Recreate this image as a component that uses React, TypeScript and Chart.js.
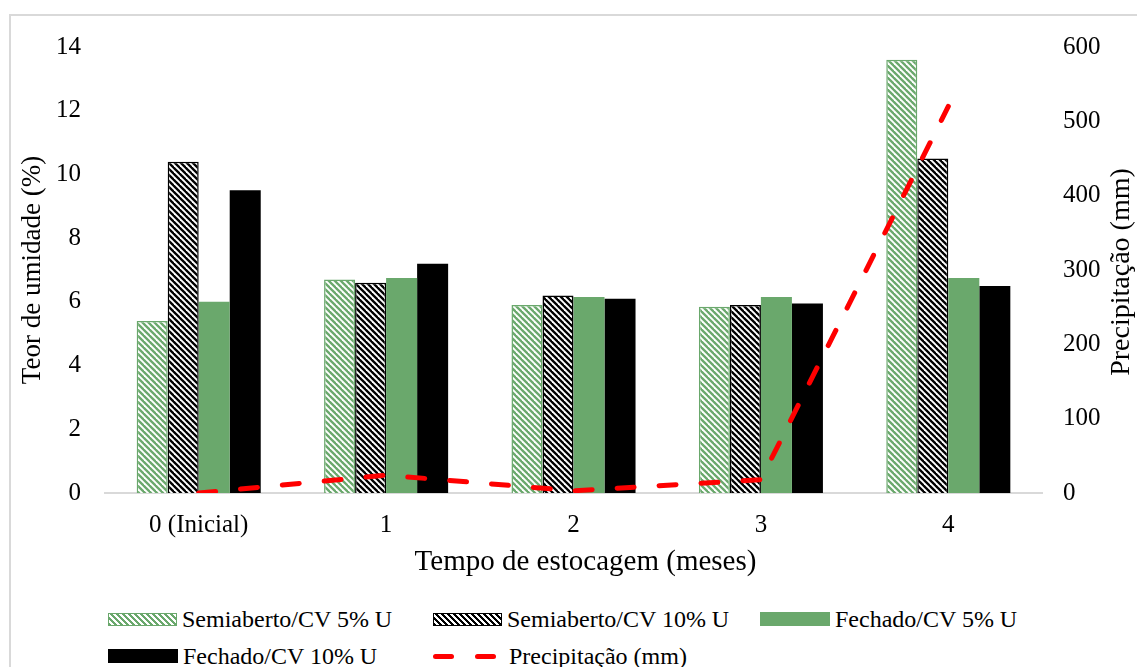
import React, { useEffect, useRef } from "react";
import { Chart, registerables } from "chart.js";

Chart.register(...registerables);

// ---- data ----
const categories = ["0 (Inicial)", "1", "2", "3", "4"];
const semiaberto5 = [5.4, 6.7, 5.9, 5.85, 13.6];
const semiaberto10 = [10.4, 6.6, 6.2, 5.9, 10.5];
const fechado5 = [6.0, 6.75, 6.15, 6.15, 6.75];
const fechado10 = [9.5, 7.2, 6.1, 5.95, 6.5];
const precipitacao = [0, 24, 3, 18, 520];
const seriesNames = [
  "Semiaberto/CV 5% U",
  "Semiaberto/CV 10% U",
  "Fechado/CV 5% U",
  "Fechado/CV 10% U",
  "Precipitação (mm)",
];
const leftAxis = { min: 0, max: 14, step: 2 };
const rightAxis = { min: 0, max: 600, step: 100 };
const xTitle = "Tempo de estocagem (meses)";
const yTitle = "Teor de umidade (%)";
const y1Title = "Precipitação (mm)";

// ---- style ----
const GREEN = "#6aa86c";
const BLACK = "#000000";
const RED = "#ff0000";
const FONT = "'Liberation Serif', 'Times New Roman', serif";

function makeHatch(ctx: CanvasRenderingContext2D, color: string) {
  const s = 6;
  const c = document.createElement("canvas");
  c.width = s;
  c.height = s;
  const x = c.getContext("2d")!;
  x.fillStyle = "#ffffff";
  x.fillRect(0, 0, s, s);
  x.strokeStyle = color;
  x.lineWidth = 2.3;
  for (const k of [-s, 0, s]) {
    x.beginPath();
    x.moveTo(k - 1, -1);
    x.lineTo(k + s + 1, s + 1);
    x.stroke();
  }
  return ctx.createPattern(c, "repeat")!;
}

const titlesPlugin = {
  id: "customTitles",
  afterDraw(chart: any) {
    const { ctx, chartArea } = chart;
    const sy1 = chart.scales.y1;
    const sx = chart.scales.x;
    ctx.save();
    ctx.fillStyle = "#000";
    ctx.textAlign = "center";
    ctx.textBaseline = "middle";
    // x axis title
    ctx.font = `29px ${FONT}`;
    ctx.fillText(xTitle, (chartArea.left + chartArea.right) / 2 + 12, sx.bottom - 20);
    // right axis title (reads bottom to top)
    ctx.translate(sy1.right - 15, (chartArea.top + chartArea.bottom) / 2 + 2);
    ctx.rotate(-Math.PI / 2);
    ctx.font = `28px ${FONT}`;
    ctx.fillText(y1Title, 0, 0);
    ctx.restore();
  },
};

const hatchCss = (color: string) =>
  `repeating-linear-gradient(45deg, ${color} 0px, ${color} 2.1px, #ffffff 2.1px, #ffffff 4.24px)`;

const legendCols = [108, 433, 760];
const legendRows = [619, 656];

export default function App() {
  const ref = useRef<HTMLCanvasElement>(null);

  useEffect(() => {
    const canvas = ref.current!;
    const ctx = canvas.getContext("2d")!;
    const greenHatch = makeHatch(ctx, GREEN);
    const blackHatch = makeHatch(ctx, BLACK);
    const tickFont = { family: FONT, size: 25 };
    const titleFont = { family: FONT, size: 27 };

    const barCommon = {
      yAxisID: "y",
      order: 1,
      categoryPercentage: 0.662,
      barPercentage: 1,
    };

    const chart = new Chart(ctx, {
      type: "bar",
      data: {
        labels: categories,
        datasets: [
          {
            ...barCommon,
            type: "bar",
            label: seriesNames[0],
            data: semiaberto5,
            backgroundColor: greenHatch,
            borderColor: GREEN,
            borderWidth: 1.5,
          },
          {
            ...barCommon,
            type: "bar",
            label: seriesNames[1],
            data: semiaberto10,
            backgroundColor: blackHatch,
            borderColor: BLACK,
            borderWidth: 1.5,
          },
          {
            ...barCommon,
            type: "bar",
            label: seriesNames[2],
            data: fechado5,
            backgroundColor: GREEN,
            borderWidth: 0,
          },
          {
            ...barCommon,
            type: "bar",
            label: seriesNames[3],
            data: fechado10,
            backgroundColor: BLACK,
            borderWidth: 0,
          },
          {
            type: "line",
            label: seriesNames[4],
            data: precipitacao,
            yAxisID: "y1",
            order: 0,
            borderColor: RED,
            borderWidth: 5,
            borderDash: [17, 25],
            borderCapStyle: "round",
            borderJoinStyle: "round",
            pointRadius: 0,
            tension: 0,
            fill: false,
          },
        ] as any,
      },
      options: {
        responsive: false,
        animation: false,
        layout: { padding: { left: 13, right: 0, top: 47, bottom: 13 } },
        plugins: {
          legend: { display: false },
          tooltip: { enabled: false },
        },
        scales: {
          x: {
            grid: { display: false, drawTicks: false },
            border: { display: true, color: "#d9d9d9", width: 2 },
            ticks: { color: "#000", font: tickFont, padding: 17 },
            title: { display: false, text: xTitle },
            afterFit: (s: any) => {
              s.height = 89;
            },
          },
          y: {
            position: "left",
            min: leftAxis.min,
            max: leftAxis.max,
            grid: { display: false, drawTicks: false },
            border: { display: false },
            ticks: { stepSize: leftAxis.step, color: "#000", font: tickFont, padding: 24 },
            title: { display: true, text: yTitle, color: "#000", font: titleFont },
            afterFit: (s: any) => {
              s.width = 92;
            },
          },
          y1: {
            position: "right",
            min: rightAxis.min,
            max: rightAxis.max,
            grid: { display: false, drawTicks: false },
            border: { display: false },
            ticks: { stepSize: rightAxis.step, color: "#000", font: tickFont, padding: 21 },
            afterFit: (s: any) => {
              s.width = 95;
            },
          },
        },
      } as any,
      plugins: [titlesPlugin],
    });
    return () => chart.destroy();
  }, []);

  const swatches: React.ReactNode[] = [
    <div style={{ width: 67, height: 11, border: `1.5px solid ${GREEN}`, background: hatchCss(GREEN) }} />,
    <div style={{ width: 67, height: 11, border: `1.5px solid ${BLACK}`, background: hatchCss(BLACK) }} />,
    <div style={{ width: 70, height: 14, background: GREEN }} />,
    <div style={{ width: 70, height: 14, background: BLACK }} />,
    <div style={{ width: 63, height: 5, position: "relative", marginRight: 8 }}>
      <div style={{ position: "absolute", left: 0, top: 0, width: 21, height: 5, borderRadius: 2.5, background: RED }} />
      <div style={{ position: "absolute", left: 42, top: 0, width: 21, height: 5, borderRadius: 2.5, background: RED }} />
    </div>,
  ];

  return (
    <div
      style={{
        position: "fixed",
        left: 0,
        top: 0,
        width: 1137,
        height: 667,
        overflow: "hidden",
        background: "#fff",
      }}
    >
      <div
        style={{
          position: "absolute",
          left: 9,
          top: 14,
          right: 0,
          bottom: 0,
          borderLeft: "2px solid #d9d9d9",
          borderTop: "2px solid #d9d9d9",
        }}
      />
      <canvas ref={ref} width={1137} height={595} style={{ position: "absolute", left: 0, top: 0 }} />
      {seriesNames.map((name, i) => (
        <div
          key={name}
          style={{
            position: "absolute",
            left: legendCols[i % 3],
            top: legendRows[Math.floor(i / 3)] - 15,
            height: 30,
            display: "flex",
            alignItems: "center",
            whiteSpace: "nowrap",
            fontFamily: FONT,
            fontSize: 24,
            lineHeight: "30px",
            color: "#000",
          }}
        >
          {swatches[i]}
          <span style={{ marginLeft: 5 }}>{name}</span>
        </div>
      ))}
    </div>
  );
}
